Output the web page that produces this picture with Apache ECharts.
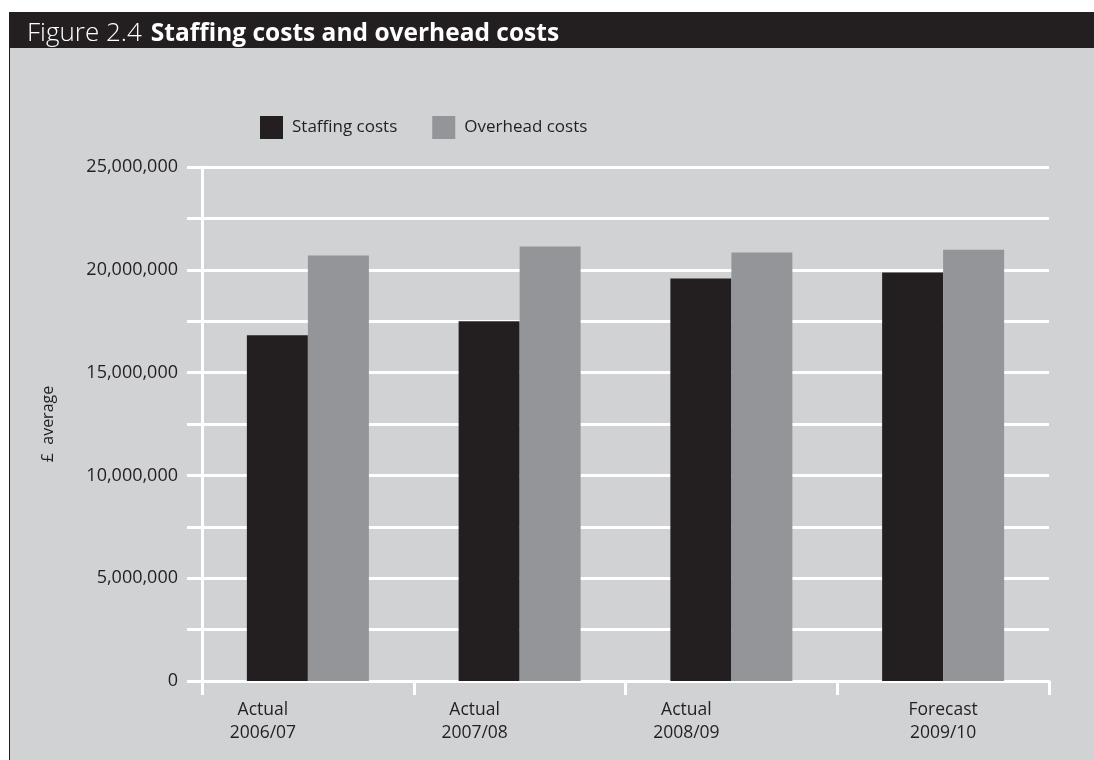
<!DOCTYPE html>
<html>
<head>
<meta charset="utf-8">
<title>Staffing costs and overhead costs</title>
<script src="https://cdn.jsdelivr.net/npm/echarts@6/dist/echarts.min.js"></script>
<style>
  html, body { margin: 0; padding: 0; background: #ffffff; }
  #chart { width: 1094px; height: 760px; }
</style>
</head>
<body>
<div id="chart"></div>
<script>
// Financial years shown along the x axis
const periods = ['Actual\n2006/07', 'Actual\n2007/08', 'Actual\n2008/09', 'Forecast\n2009/10'];
// Average costs in pounds
const staffingCosts = [16820000, 17500000, 19580000, 19870000];
const overheadCosts = [20700000, 21130000, 20840000, 20980000];
// Value axis labels (every 5m; minor gridlines every 2.5m)
const yTickLabels = [0, 5000000, 10000000, 15000000, 20000000, 25000000];

const INK = '#231f20';
const PANEL = '#d1d2d4';
const GREY_BAR = '#939598';
const FONT = '"Open Sans", "Noto Sans", sans-serif';

const fmt = v => v.toLocaleString('en-GB');

const chart = echarts.init(document.getElementById('chart'), null, { renderer: 'canvas' });

chart.setOption({
  backgroundColor: '#ffffff',
  animation: false,
  textStyle: { fontFamily: FONT, color: INK },
  graphic: [
    { type: 'rect', z: -10, shape: { x: 9, y: 12, width: 1085, height: 36 }, style: { fill: INK } },
    { type: 'rect', z: -10, shape: { x: 9, y: 48, width: 1085, height: 712 }, style: { fill: PANEL } },
    { type: 'line', z: -9, shape: { x1: 9.5, y1: 48, x2: 9.5, y2: 760 }, style: { stroke: INK, lineWidth: 1 } }
  ],
  title: {
    left: 27,
    top: 21,
    padding: 0,
    text: '{a|Figure 2.4}{b|Staffing costs and overhead costs}',
    textStyle: {
      rich: {
        a: { fontFamily: FONT, fontSize: 26, fontWeight: 300, color: '#ffffff' },
        b: { fontFamily: FONT, fontSize: 24.5, fontWeight: 'bold', color: '#ffffff', padding: [0, 0, 0, 9] }
      }
    }
  },
  legend: {
    left: 255,
    top: 111,
    itemWidth: 23,
    itemHeight: 23,
    itemGap: 35,
    icon: 'rect',
    textStyle: { fontFamily: FONT, fontSize: 17, color: INK, padding: [0, 0, 0, 4] },
    data: ['Staffing costs', 'Overhead costs']
  },
  grid: { left: 202, right: 45, top: 167, bottom: 79, containLabel: false },
  xAxis: {
    type: 'category',
    data: periods.map((p, i) => ({
      value: p,
      textStyle: i < 3 ? { padding: [0, 90, 0, 0] } : {}
    })),
    boundaryGap: true,
    axisLine: { lineStyle: { color: '#ffffff', width: 3 } },
    axisTick: { show: true, length: 14, lineStyle: { color: '#ffffff', width: 3 } },
    axisLabel: { margin: 18, fontFamily: FONT, fontSize: 17.5, color: INK, lineHeight: 23 }
  },
  yAxis: {
    type: 'value',
    min: 0,
    max: 25000000,
    interval: 2500000,
    name: '£  average',
    nameLocation: 'middle',
    nameGap: 146,
    nameRotate: 90,
    nameTextStyle: { fontFamily: FONT, fontSize: 16, color: INK },
    axisLine: { show: true, lineStyle: { color: '#ffffff', width: 3 } },
    axisTick: { show: true, length: 15, lineStyle: { color: '#ffffff', width: 3 } },
    splitLine: { show: true, lineStyle: { color: '#ffffff', width: 3 } },
    axisLabel: {
      margin: 24,
      fontFamily: FONT,
      fontSize: 18,
      color: INK,
      formatter: v => (yTickLabels.indexOf(v) >= 0 ? fmt(v) : '')
    }
  },
  series: [
    {
      name: 'Staffing costs',
      type: 'bar',
      data: staffingCosts,
      barWidth: 61,
      barGap: '0%',
      itemStyle: { color: INK }
    },
    {
      name: 'Overhead costs',
      type: 'bar',
      data: overheadCosts,
      barWidth: 61,
      barGap: '0%',
      itemStyle: { color: GREY_BAR }
    }
  ]
});
</script>
</body>
</html>
